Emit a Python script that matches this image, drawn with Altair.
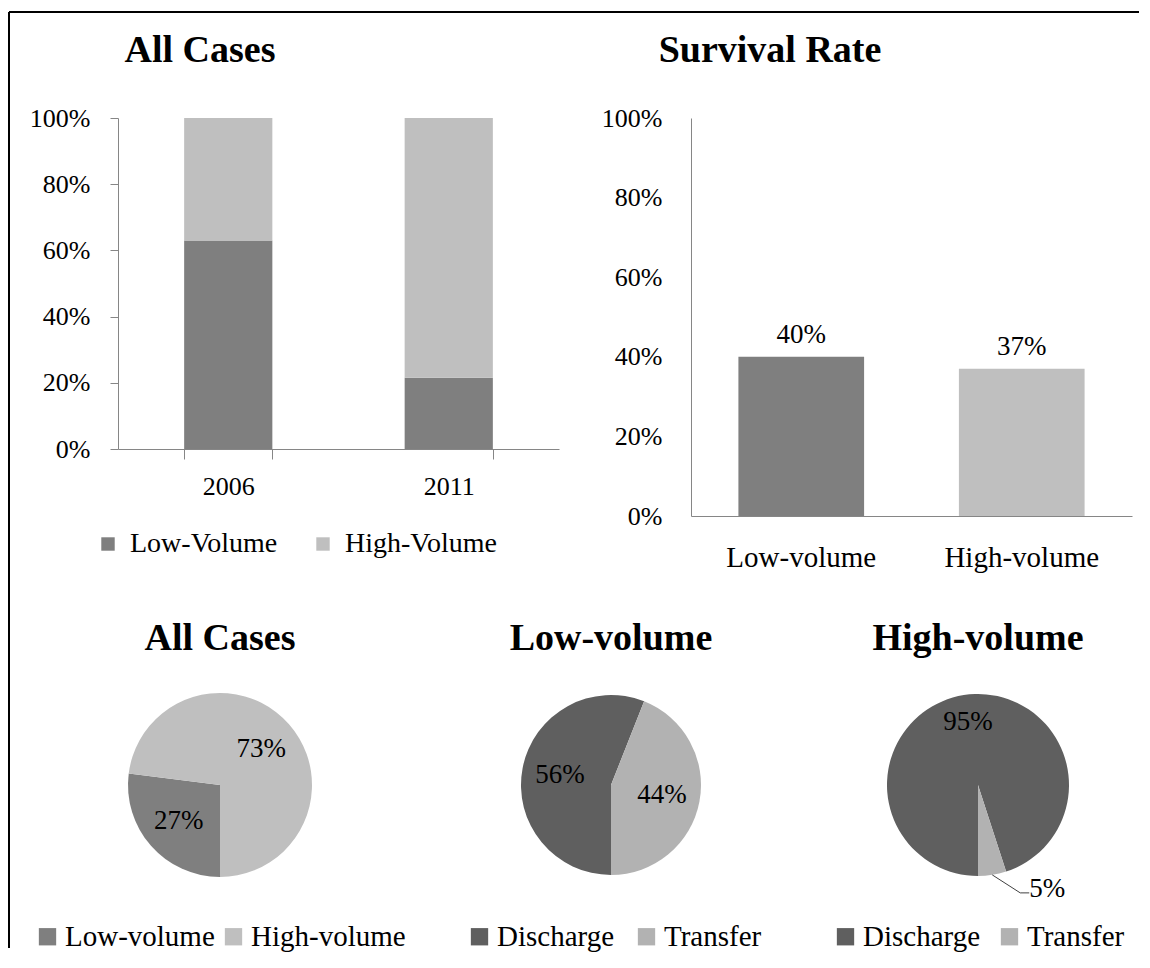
import math
import altair as alt
import pandas as pd

FONT = "Liberation Serif"

# ---------------- data ----------------
years = ["2006", "2011"]
stack_groups = ["Low-Volume", "High-Volume"]
low_volume_share = [63, 21.5]
high_volume_share = [37, 78.5]

survival_groups = ["Low-volume", "High-volume"]
survival_rate = [40, 37]

pie1_groups = ["Low-volume", "High-volume"]
pie1_values = [27, 73]
pie2_groups = ["Discharge", "Transfer"]
pie2_values = [56, 44]
pie3_groups = ["Discharge", "Transfer"]
pie3_values = [95, 5]

titles = ["All Cases", "Survival Rate", "All Cases", "Low-volume", "High-volume"]

DARK = "#7f7f7f"
LIGHT = "#bfbfbf"
DARKER = "#5f5f5f"
MID = "#b2b2b2"
AXIS = "#868686"

# ---------------- tables ----------------
rows = []
for i, y in enumerate(years):
    rows.append({"year": y, "grp": stack_groups[0], "share": low_volume_share[i], "ord": 0})
    rows.append({"year": y, "grp": stack_groups[1], "share": high_volume_share[i], "ord": 1})
df1 = pd.DataFrame(rows)

df2 = pd.DataFrame({"grp2": survival_groups, "rate": survival_rate})
ONE = pd.DataFrame({"k": [0]})


def pie_df(groups, values):
    return pd.DataFrame({"g": groups, "v": values, "ord": list(range(len(groups)))})


pct_axis_values = [0, 20, 40, 60, 80, 100]


def title_mark(text, x, y):
    return alt.Chart(ONE).mark_text(
        font=FONT, fontSize=38, fontWeight="bold", color="black",
        align="center", baseline="alphabetic"
    ).encode(x=alt.value(x), y=alt.value(y), text=alt.value(text))


# ---------------- top-left: stacked bars ----------------
W1, H1 = 441, 331
bars1 = alt.Chart(df1).mark_bar().encode(
    x=alt.X("year:N", title=None,
            scale=alt.Scale(paddingInner=0.6, paddingOuter=0.3),
            axis=alt.Axis(labelAngle=0, tickBand="extent", tickSize=10, labelPadding=14,
                          labelFontSize=26)),
    y=alt.Y("share:Q", title=None, stack="zero",
            scale=alt.Scale(domain=[0, 100], nice=False),
            axis=alt.Axis(values=pct_axis_values, labelExpr="datum.value + '%'",
                          tickSize=8, labelPadding=20, labelFontSize=26)),
    color=alt.Color("grp:N",
                    scale=alt.Scale(domain=stack_groups, range=[DARK, LIGHT]),
                    legend=alt.Legend(title=None, orient="none", direction="horizontal",
                                      legendX=-24, legendY=412, symbolType="square",
                                      symbolSize=180, symbolStrokeWidth=0,
                                      labelFontSize=28, labelOffset=8, columnPadding=31,
                                      padding=0)),
    order=alt.Order("ord:Q"),
)

# frame lines (left and top edges of the figure's border)
frame_left = alt.Chart(ONE).mark_rule(color="black", strokeWidth=2).encode(
    x=alt.value(-109), x2=alt.value(-109), y=alt.value(-106), y2=alt.value(830))
frame_top = alt.Chart(ONE).mark_rule(color="black", strokeWidth=2).encode(
    x=alt.value(-109), x2=alt.value(1021), y=alt.value(-106), y2=alt.value(-106))

chart1 = alt.layer(bars1, frame_left, frame_top, title_mark(titles[0], 82, -56)).properties(
    width=W1, height=H1)

# ---------------- top-right: survival rate ----------------
W2, H2 = 441, 398
base2 = alt.Chart(df2).encode(
    x=alt.X("grp2:N", sort=survival_groups, title=None,
            scale=alt.Scale(paddingInner=0.43, paddingOuter=0.215),
            axis=alt.Axis(labelAngle=0, ticks=False, tickSize=0, labelPadding=27,
                          labelFontSize=29)),
    y=alt.Y("rate:Q", title=None, scale=alt.Scale(domain=[0, 100], nice=False),
            axis=alt.Axis(values=pct_axis_values, labelExpr="datum.value + '%'",
                          ticks=False, tickSize=0, labelPadding=29, labelFontSize=26)),
)
bars2 = base2.mark_bar().encode(
    color=alt.Color("grp2:N", scale=alt.Scale(domain=survival_groups, range=[DARK, LIGHT]),
                    legend=None)
)
text2 = base2.mark_text(dy=-22, fontSize=27, font=FONT, color="black").encode(
    text=alt.Text("lbl:N")
).transform_calculate(lbl="datum.rate + '%'")

chart2 = alt.layer(bars2, text2, title_mark(titles[1], 79, -56)).properties(
    width=W2, height=H2)

# ---------------- pies ----------------
PH = 184


def make_pie(df, domain, colors, ttl, width, radius, label_r, legend_x, col_pad,
             small_label=False):
    base = alt.Chart(df).encode(
        theta=alt.Theta("v:Q", stack=True,
                        scale=alt.Scale(range=[math.pi, 3 * math.pi])),
        order=alt.Order("ord:Q"),
    ).transform_calculate(
        big="datum.v >= 10 ? datum.v + '%' : ''",
        small="datum.v < 10 ? datum.v + '%' : ''",
    )
    arc = base.mark_arc(outerRadius=radius).encode(
        color=alt.Color("g:N", scale=alt.Scale(domain=domain, range=colors),
                        legend=alt.Legend(title=None, orient="none", direction="horizontal",
                                          legendX=legend_x, legendY=229, symbolType="square",
                                          symbolSize=300, symbolStrokeWidth=0,
                                          labelFontSize=29, labelOffset=3,
                                          columnPadding=col_pad, padding=0))
    )
    layers = [arc]
    layers.append(base.mark_text(radius=label_r, fontSize=27, font=FONT).encode(
        text="big:N", color=alt.value("black")))
    if small_label:
        layers.append(base.mark_text(radius=radius, fontSize=27, font=FONT, align="left",
                                     dx=37, dy=14).encode(
            text="small:N", color=alt.value("black")))
        # leader line from the middle of the small slice's rim
        vals = list(df["v"])
        total = sum(vals)
        cum = sum(vals[:-1]) + vals[-1] / 2.0
        ang = math.pi + 2 * math.pi * cum / total
        ex = width / 2 + radius * math.sin(ang)
        ey = PH / 2 - radius * math.cos(ang)
        layers.append(alt.Chart(ONE).mark_rule(color="#404040", strokeWidth=1).encode(
            x=alt.value(ex), y=alt.value(ey), x2=alt.value(ex + 28), y2=alt.value(ey + 18)))
        layers.append(alt.Chart(ONE).mark_rule(color="#404040", strokeWidth=1).encode(
            x=alt.value(ex + 28), y=alt.value(ey + 18), x2=alt.value(ex + 37),
            y2=alt.value(ey + 18)))
    layers.append(title_mark(ttl, width / 2, -43))
    return alt.layer(*layers).properties(width=width, height=PH)


p1 = make_pie(pie_df(pie1_groups, pie1_values), pie1_groups, [DARK, LIGHT],
              titles[2], 204, 92, 55, -85, 4)
p2 = make_pie(pie_df(pie2_groups, pie2_values), pie2_groups, [DARKER, MID],
              titles[3], 212, 90, 52, -40, 17)
p3 = make_pie(pie_df(pie3_groups, pie3_values), pie3_groups, [DARKER, MID],
              titles[4], 156, 91, 64, -69, 14, small_label=True)

top = alt.hconcat(chart1, chart2, spacing=132, bounds="flush").resolve_scale(
    color="independent", x="independent", y="independent")
bottom = alt.hconcat(p1, p2, p3, spacing=183, bounds="flush").resolve_scale(
    color="independent", theta="independent").resolve_legend(color="independent")

# nested rows count as zero height in a flush layout, so the spacing spans the top row
chart = alt.vconcat(top, bottom, spacing=575, bounds="flush").resolve_scale(
    color="independent").resolve_legend(color="independent").properties(
    padding={"left": 0, "top": 3, "right": 0, "bottom": 0},
    background="white",
).configure(font=FONT).configure_view(strokeWidth=0).configure_axis(
    grid=False, domainColor=AXIS, tickColor=AXIS, labelColor="black",
    labelFont=FONT, domainWidth=1, tickWidth=1,
).configure_legend(labelFont=FONT, labelColor="black")

chart.save("out.html", embed_options={"renderer": "svg", "actions": False})
